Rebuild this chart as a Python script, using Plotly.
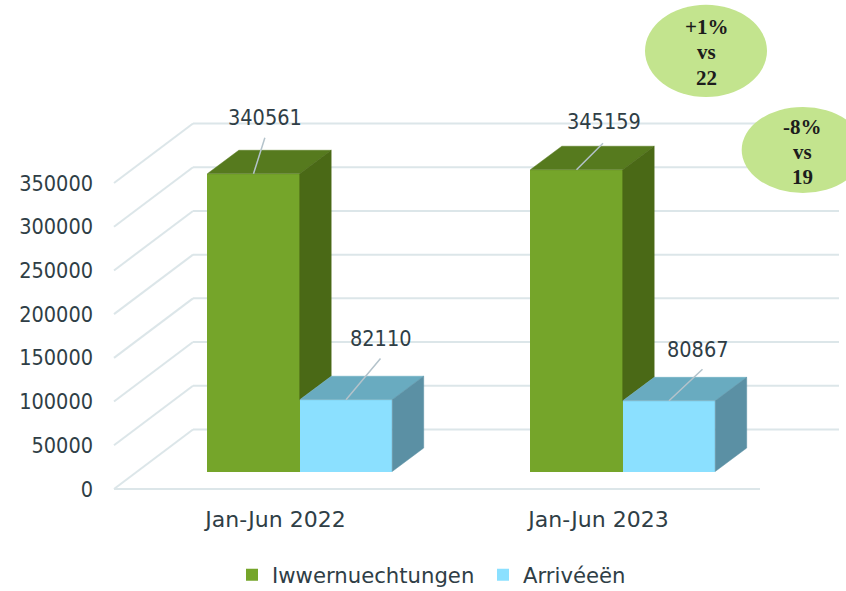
import plotly.graph_objects as go

categories = ["Jan-Jun 2022", "Jan-Jun 2023"]
overnights = [340561, 345159]
arrivals = [82110, 80867]
y_ticks = [0, 50000, 100000, 150000, 200000, 250000, 300000, 350000]
series_names = ["Iwwernuechtungen", "Arrivéeën"]
callouts = [["+1%", "vs", "22"], ["-8%", "vs", "19"]]

W, H = 846, 591
FONT = "DejaVu Sans Condensed, Noto Sans, sans-serif"
FONT_WIDE = "DejaVu Sans, sans-serif"
TEXT = "#2f3e46"
GRID = "#dce6e9"

PX_X = 323.0            # pixels per category
PX_Y = 306.0 / 350000   # pixels per value unit
PAD = 6                 # room round the floor so lines are not cut
LEFT = 114 - PAD
BOTTOM = H - 489 - PAD

def ux(px):
    return px / PX_X

def uy(px):
    return px / PX_Y

x = [0, 1]
bar_w = ux(92.4)
off_g = ux(-68.2)
off_b = ux(24.3)
base = uy(17.5)
dx, dy = ux(31.5), uy(23.5)       # bar depth
wx, wy = ux(79), uy(59.5)         # wall depth

fig = go.Figure()

fig.add_trace(go.Bar(x=x, y=overnights, base=[base] * 2, width=bar_w, offset=off_g,
                     name=series_names[0], marker=dict(color="#75A52A", line=dict(width=0))))
fig.add_trace(go.Bar(x=x, y=arrivals, base=[base] * 2, width=bar_w, offset=off_b,
                     name=series_names[1], marker=dict(color="#8BE0FF", line=dict(width=0))))

def poly(xs, ys, color):
    fig.add_trace(go.Scatter(x=xs, y=ys, mode="lines", fill="toself", fillcolor=color,
                             line=dict(color=color, width=0.5), showlegend=False, hoverinfo="skip"))

for i in x:
    # green faces: side stops where the blue box starts
    l, r = i + off_g, i + off_g + bar_w
    top = base + overnights[i]
    low = base + arrivals[i]
    poly([l, r, r + dx, l + dx, l], [top, top, top + dy, top + dy, top], "#567A1E")
    poly([r, r + dx, r + dx, r, r], [low, low + dy, top + dy, top, low], "#4A6916")
    # blue faces
    l, r = i + off_b, i + off_b + bar_w
    top = base + arrivals[i]
    poly([l, r, r + dx, l + dx, l], [top, top, top + dy, top + dy, top], "#69ABC0")
    poly([r, r + dx, r + dx, r, r], [base, base + dy, top + dy, top, base], "#5B90A4")

shapes = []
line = dict(color=GRID, width=2)
for t in y_ticks:
    shapes.append(dict(type="line", xref="x", yref="y", x0=-0.5, y0=t, x1=-0.5 + wx, y1=t + wy, line=line, layer="below"))
    shapes.append(dict(type="line", xref="x", yref="y", x0=-0.5 + wx, y0=t + wy, x1=1.5 + wx, y1=t + wy, line=line, layer="below"))
shapes.append(dict(type="line", xref="x", yref="y", x0=-0.5, y0=0, x1=1.5, y1=0, line=line, layer="below"))

def px(v):
    return (v - LEFT) / (W - LEFT)

def py(v):
    return (H - BOTTOM - v) / (H - BOTTOM)

ell = [(645, 4.7, 767, 97), (741.7, 107, 864, 193)]
for a, b, c, d in ell:
    shapes.append(dict(type="circle", xref="paper", yref="paper", x0=px(a), x1=px(c), y0=py(d), y1=py(b),
                       fillcolor="#C3E48E", line=dict(width=0), layer="above"))

ann = []
label_pts = [(0, off_g, overnights[0]), (1, off_g, overnights[1]), (0, off_b, arrivals[0]), (1, off_b, arrivals[1])]
leader_off = [(12, -38), (28, -28), (36, -43), (35, -33)]
text_off = [(11.5, -56), (27.5, -48), (35, -61), (29, -51)]
for (i, o, v), (lx, ly), (tx, ty) in zip(label_pts, leader_off, text_off):
    xv, yv = i + o + bar_w / 2, base + v
    ann.append(dict(x=xv, y=yv, xref="x", yref="y", text=" ", showarrow=True, arrowhead=0, arrowwidth=1.5,
                    arrowcolor="#b4c3cb", ax=lx, ay=ly, font=dict(size=1)))
    ann.append(dict(x=xv, y=yv, xref="x", yref="y", text=str(v), showarrow=False, xshift=tx, yshift=-ty,
                    font=dict(family=FONT, size=21.5, color=TEXT)))

centers = [(706, [27, 52, 78]), (802.5, [127, 152, 177])]
for (cx, ys), lines in zip(centers, callouts):
    for yy, s in zip(ys, lines):
        ann.append(dict(x=px(cx), y=py(yy), xref="paper", yref="paper", text=s, showarrow=False,
                        font=dict(family="Liberation Serif", size=21, color="#1c1c1c", weight="bold"),
                        xanchor="center", yanchor="middle"))

fig.update_layout(
    width=W, height=H, margin=dict(l=LEFT, r=0, t=0, b=BOTTOM, pad=0, autoexpand=False),
    paper_bgcolor="white", plot_bgcolor="white", barmode="overlay", bargap=0,
    shapes=shapes, annotations=ann, hovermode=False,
    font=dict(family=FONT, color=TEXT, size=21),
    xaxis=dict(range=[-0.5 - ux(PAD), (W - 114) / PX_X - 0.5], tickvals=x, ticktext=categories,
               showgrid=False, zeroline=False, showline=False, ticks="", ticklabelstandoff=9,
               tickfont=dict(family=FONT_WIDE, size=22, color=TEXT)),
    yaxis=dict(range=[uy(-PAD), uy(489)], tickvals=y_ticks, ticktext=[str(t) for t in y_ticks],
               showgrid=False, zeroline=False, showline=False, ticks="", ticklabelstandoff=14,
               tickfont=dict(family=FONT, size=21.5, color=TEXT)),
    legend=dict(orientation="h", x=px(232), xanchor="left", y=py(575), yanchor="middle",
                font=dict(family=FONT_WIDE, size=21.2, color=TEXT), traceorder="normal",
                bgcolor="rgba(0,0,0,0)", entrywidth=206, entrywidthmode="pixels"),
)

fig.write_html("out.html", config={"displayModeBar": False},
               post_script="document.body.style.margin='0';")
